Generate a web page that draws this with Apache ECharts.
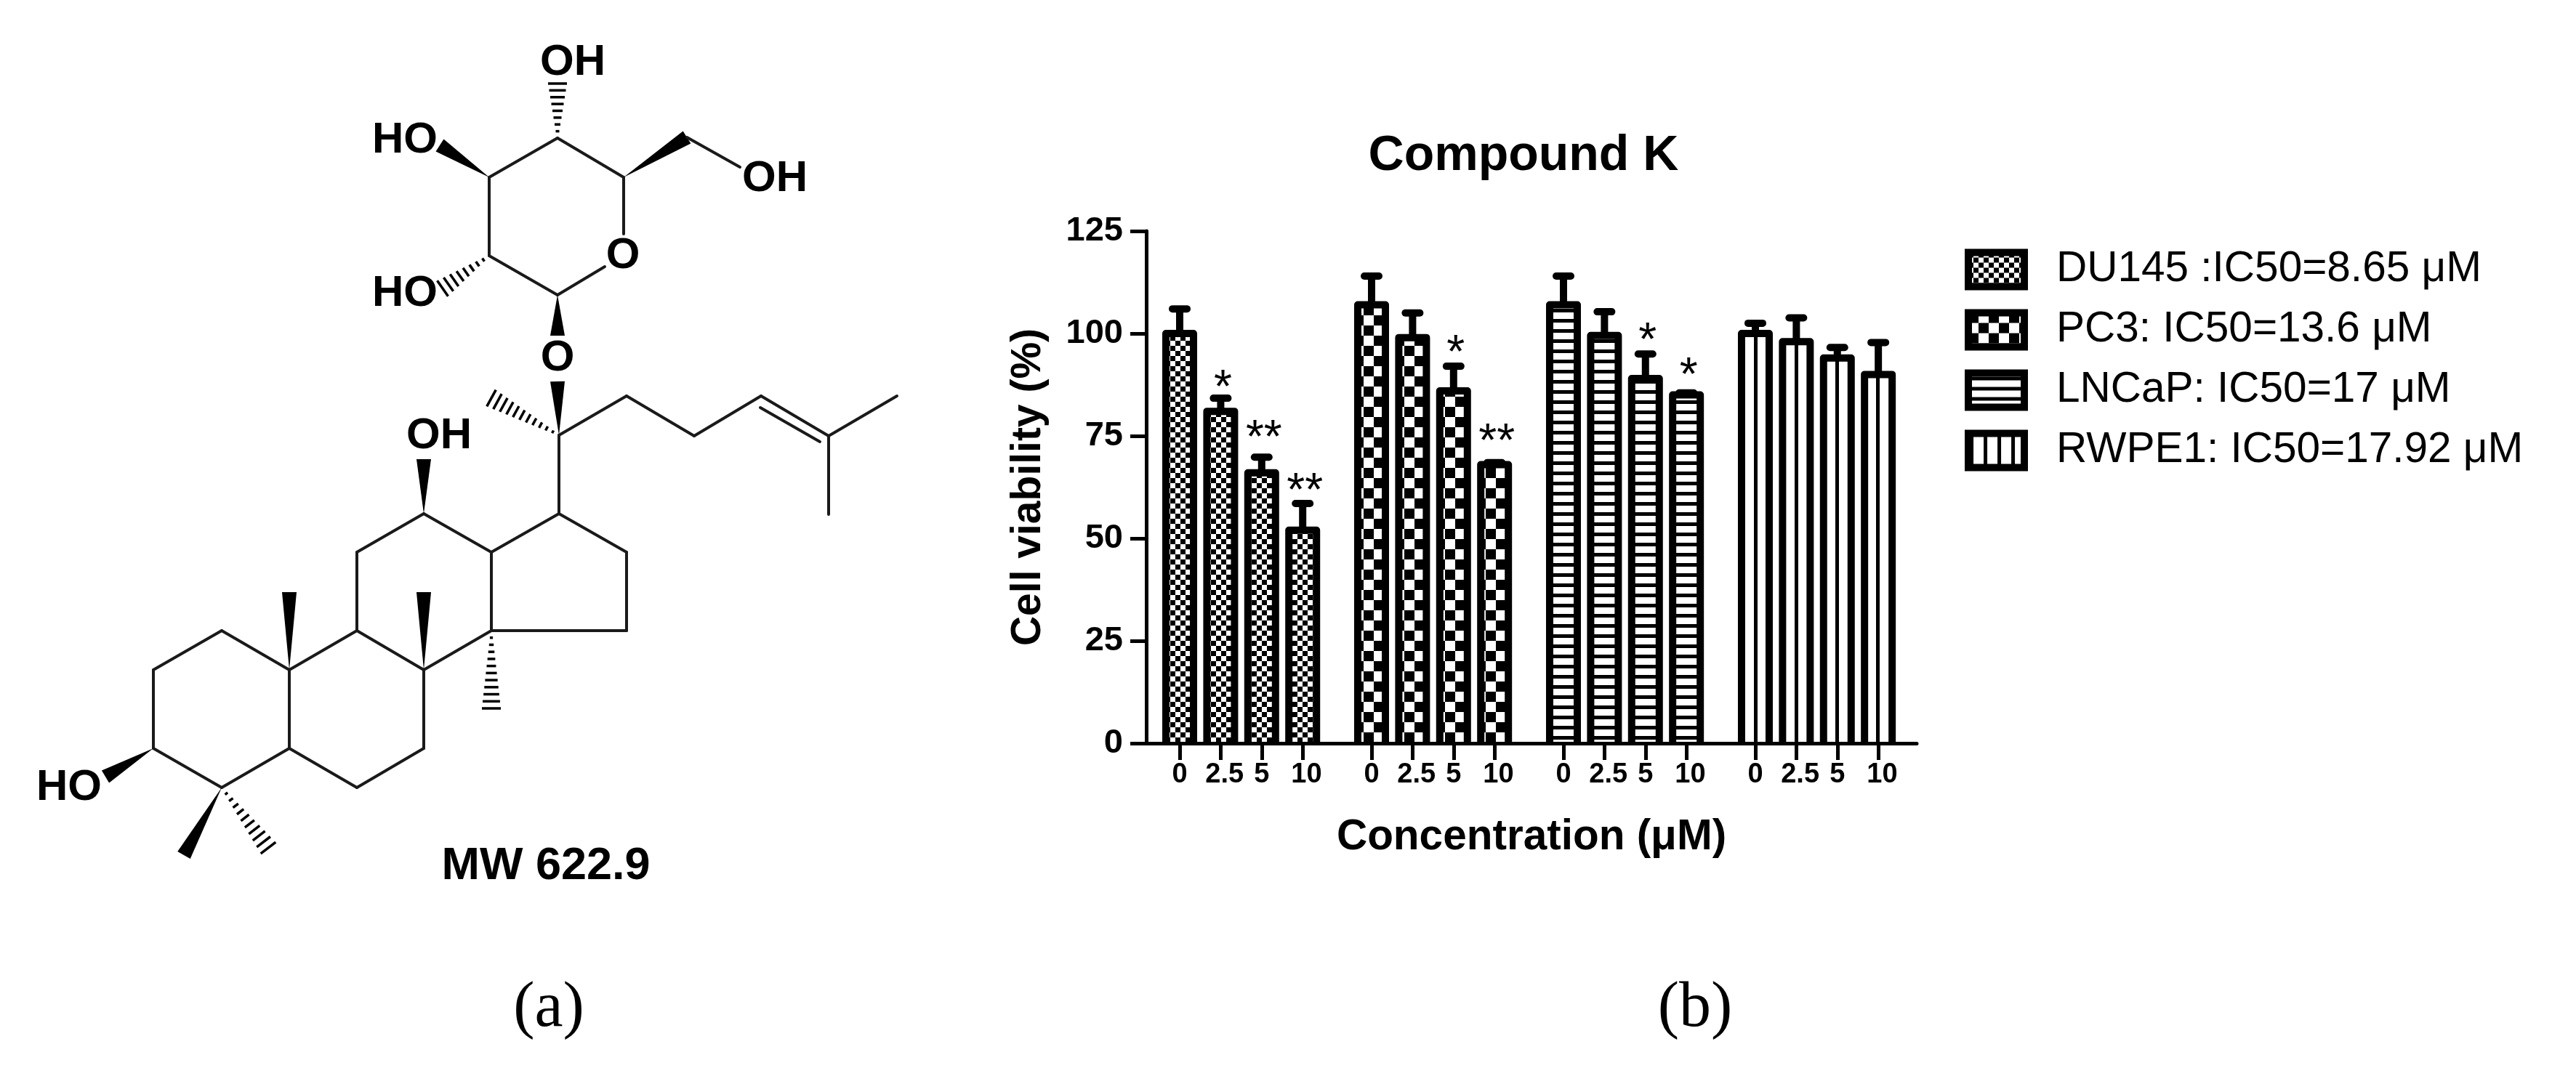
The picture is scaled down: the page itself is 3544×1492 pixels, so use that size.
<!DOCTYPE html>
<html><head><meta charset="utf-8">
<style>html,body{margin:0;padding:0;background:#fff}#c{width:3544px;height:1492px}</style>
<script src="https://cdn.jsdelivr.net/npm/echarts@6/dist/echarts.min.js"></script>
</head><body><div id="c"></div>
<script>
// ---- chart data ----
const concentrations = ['0', '2.5', '5', '10'];
const cellLines = ['DU145 :IC50=8.65 \u03bcM', 'PC3: IC50=13.6 \u03bcM', 'LNCaP: IC50=17 \u03bcM', 'RWPE1: IC50=17.92 \u03bcM'];
const du145 = [100, 81, 66, 52];
const pc3 = [107, 99, 86, 68];
const lncap = [107, 99.5, 89, 85];
const rwpe1 = [100, 98, 94, 90];
const du145Err = [106, 84.2, 69.8, 58.5];
const pc3Err = [114, 105, 92, 68.5];
const lncapErr = [114, 105.3, 95, 85.5];
const rwpe1Err = [102.5, 103.8, 96.6, 97.8];
const du145Stars = ['', '*', '**', '**'];
const pc3Stars = ['', '', '*', '**'];
const lncapStars = ['', '', '*', '*'];
const rwpe1Stars = ['', '', '', ''];
const du145StarY = [0, 88, 75.9, 62.8];
const pc3StarY = [0, 0, 96.5, 75];
const lncapStarY = [0, 0, 99.5, 91];
const rwpe1StarY = [0, 0, 0, 0];
const yTicks = [0, 25, 50, 75, 100, 125];
// ---- structure of the compound (panel a) ----
const atoms = {
  c4s:[767,190], c3s:[673,244], c2s:[673,352], c1s:[767,406], c5s:[858,244], ch2:[945,189],
  oRingTop:[858,322], oRingLow:[832,367], oh6:[1018,230], oh4:[767,115], oh3:[605,200], oh2:[609,397],
  oGlyA:[767,462], oGlyB:[767,525], c20:[769,599], me21:[676,548], c22:[862,545], c23:[955,600],
  c24:[1047,545], c25:[1140,600], me26:[1234,545], me27:[1140,708], db1:[1046,561], db2:[1128,608],
  c17:[769,707], c12:[583,707], oh12:[583,632], c11:[491,760], c13:[676,760], c16:[862,760],
  c15:[862,868], c14:[676,868], c9:[491,868], c8:[583,922], c10:[398,922], c1:[305,868], c2:[211,922],
  c3:[211,1030], c4:[305,1084], c5:[398,1030], c6:[491,1084], c7:[583,1030], me19:[398,815], me18:[583,815],
  me30:[676,975], oh3b:[145,1069], me28:[253,1177], me29:[369,1167]
};
const bonds = [
  ['c4s','c3s',0],['c3s','c2s',0],['c2s','c1s',0],['c4s','c5s',0],['c5s','oRingTop',0],['oRingLow','c1s',0],
  ['c5s','ch2',1],['ch2','oh6',0],['c4s','oh4',2],['c3s','oh3',1],['c2s','oh2',2],['c1s','oGlyA',1],['c20','oGlyB',1],
  ['c20','me21',2],['c20','c22',0],['c22','c23',0],['c23','c24',0],['c24','c25',0],['db1','db2',0],['c25','me26',0],['c25','me27',0],
  ['c20','c17',0],['c12','oh12',1],['c12','c11',0],['c12','c13',0],['c17','c13',0],['c17','c16',0],['c16','c15',0],['c15','c14',0],['c13','c14',0],
  ['c11','c9',0],['c9','c8',0],['c8','c14',0],['c9','c10',0],['c10','c1',0],['c1','c2',0],['c2','c3',0],['c3','c4',0],['c4','c5',0],['c5','c10',0],
  ['c5','c6',0],['c6','c7',0],['c7','c8',0],['c10','me19',1],['c8','me18',1],['c14','me30',2],['c3','oh3b',1],['c4','me28',1],['c4','me29',2]
];
const atomLabels = [['OH',788,86],['HO',557,193],['OH',1066,246],['O',857,352],['HO',557,404],['O',767,493],['OH',604,600],['HO',95,1084]];
const weightLabel = [['MW 622.9',751,1193]];
const panelLabels = [['(a)',755,1389],['(b)',2332,1389]];

const groupStep = 4.681;
const xOf = (g, i) => g * groupStep + i;
const allVals = [du145, pc3, lncap, rwpe1];
const allErr = [du145Err, pc3Err, lncapErr, rwpe1Err];
const allStars = [du145Stars, pc3Stars, lncapStars, rwpe1Stars];
const allStarY = [du145StarY, pc3StarY, lncapStarY, rwpe1StarY];
const xTickPos = [];
allVals.forEach((_, g) => concentrations.forEach((_, i) => xTickPos.push(xOf(g, i))));

function tile(w, h, draw) {
  const c = document.createElement('canvas'); c.width = w; c.height = h;
  const x = c.getContext('2d'); x.fillStyle = '#fff'; x.fillRect(0, 0, w, h); x.fillStyle = '#000'; draw(x);
  return { image: c, repeat: 'repeat' };
}
const patterns = [
  tile(14, 14, x => { x.fillRect(0, 0, 7, 7); x.fillRect(7, 7, 7, 7); }),
  tile(28, 28, x => { x.fillRect(0, 0, 14, 14); x.fillRect(14, 14, 14, 14); }),
  tile(14, 14, x => { x.fillRect(0, 5, 14, 5); }),
  tile(28, 14, x => { x.fillRect(5, 0, 5, 14); })
];
const legendStripes = tile(19, 14, x => { x.fillRect(2, 0, 5, 14); });

const BLACK = '#000', INK = '#1a1a1a', FONT = '"Liberation Sans"';
const barHalf = 19, strokeW = 10;

const barSeries = cellLines.map((name, g) => ({
  name, type: 'bar', xAxisIndex: 0, yAxisIndex: 0, barWidth: barHalf * 2, barGap: '-100%',
  itemStyle: { color: patterns[g], borderWidth: 0 },
  data: allVals[g].map((v, i) => [xOf(g, i), v]), z: 2
}));

const outlineData = [];
allVals.forEach((vals, g) => vals.forEach((v, i) => outlineData.push([xOf(g, i), v, allErr[g][i]])));
const outlineSeries = {
  type: 'custom', xAxisIndex: 0, yAxisIndex: 0, z: 3, silent: true, clip: false, data: outlineData,
  renderItem(p, api) {
    const top = api.coord([api.value(0), api.value(1)]);
    const base = api.coord([api.value(0), 0]);
    const err = api.coord([api.value(0), api.value(2)]);
    const st = { stroke: BLACK, lineWidth: strokeW, fill: null, lineJoin: 'round' };
    return { type: 'group', children: [
      { type: 'polyline', shape: { points: [[top[0] - barHalf, base[1]], [top[0] - barHalf, top[1]], [top[0] + barHalf, top[1]], [top[0] + barHalf, base[1]]] }, style: st },
      { type: 'line', shape: { x1: top[0], y1: top[1], x2: top[0], y2: err[1] }, style: { stroke: BLACK, lineWidth: strokeW } },
      { type: 'line', shape: { x1: top[0] - 10, y1: err[1], x2: top[0] + 10, y2: err[1] }, style: { stroke: BLACK, lineWidth: strokeW, lineCap: 'round' } }
    ] };
  }
};

const starData = [], starText = [];
allStars.forEach((arr, g) => arr.forEach((s, i) => { if (s) { starData.push([xOf(g, i), allStarY[g][i]]); starText.push(s); } }));
const starSeries = {
  type: 'custom', xAxisIndex: 0, yAxisIndex: 0, z: 4, silent: true, clip: false, data: starData,
  renderItem(p, api) {
    const c = api.coord([api.value(0), api.value(1)]);
    return { type: 'text', style: { text: starText[p.dataIndex], x: c[0] + 3, y: c[1] + 10, align: 'center', verticalAlign: 'middle', fontFamily: FONT, fontSize: 64, fill: BLACK } };
  }
};

const bondData = bonds.map(b => [atoms[b[0]][0], atoms[b[0]][1], atoms[b[1]][0], atoms[b[1]][1], b[2]]);
const bondSeries = {
  type: 'custom', xAxisIndex: 1, yAxisIndex: 1, z: 1, silent: true, clip: false, data: bondData,
  renderItem(p, api) {
    const a = api.coord([api.value(0), api.value(1)]), b = api.coord([api.value(2), api.value(3)]);
    const k = api.value(4), dx = b[0] - a[0], dy = b[1] - a[1], L = Math.hypot(dx, dy), nx = -dy / L, ny = dx / L;
    if (k === 0) return { type: 'line', shape: { x1: a[0], y1: a[1], x2: b[0], y2: b[1] }, style: { stroke: INK, lineWidth: 4, lineCap: 'round' } };
    if (k === 1) return { type: 'polygon', shape: { points: [[a[0], a[1]], [b[0] + nx * 10, b[1] + ny * 10], [b[0] - nx * 10, b[1] - ny * 10]] }, style: { fill: BLACK } };
    const n = Math.max(8, Math.round(L / 10)), ch = [];
    for (let j = 1; j <= n; j++) {
      const t = j / n, w = 12 * t + 1, cx = a[0] + dx * t, cy = a[1] + dy * t;
      ch.push({ type: 'line', shape: { x1: cx - nx * w, y1: cy - ny * w, x2: cx + nx * w, y2: cy + ny * w }, style: { stroke: BLACK, lineWidth: 3.5 } });
    }
    return { type: 'group', children: ch };
  }
};
const textSeries = (rows, font) => ({
  type: 'custom', xAxisIndex: 1, yAxisIndex: 1, z: 2, silent: true, clip: false,
  data: rows.map(r => [r[1], r[2]]),
  renderItem(p, api) {
    const c = api.coord([api.value(0), api.value(1)]);
    return { type: 'text', style: Object.assign({ text: rows[p.dataIndex][0], x: c[0], y: c[1], align: 'center', verticalAlign: 'middle', fill: BLACK }, font) };
  }
});

const chart = echarts.init(document.getElementById('c'), null, { renderer: 'canvas', width: 3544, height: 1492, devicePixelRatio: 1 });
chart.setOption({
  animation: false, backgroundColor: '#fff',
  title: { text: 'Compound K', left: 2091, top: 210, textAlign: 'center', textVerticalAlign: 'middle',
    textStyle: { fontFamily: FONT, fontWeight: 'bold', fontSize: 68, color: BLACK } },
  legend: {
    orient: 'vertical', left: 2703, top: 341.5, padding: 0, itemWidth: 77, itemHeight: 47, itemGap: 24, selectedMode: false, icon: 'rect',
    itemStyle: { borderWidth: 10, borderColor: BLACK },
    textStyle: { fontFamily: FONT, fontSize: 58.5, color: BLACK, padding: [0, 0, 0, 39], lineHeight: 47 },
    data: cellLines.map((name, g) => g === 3 ? { name, itemStyle: { color: legendStripes, borderWidth: 10, borderColor: BLACK } } : { name })
  },
  grid: [
    { left: 1577, top: 318, width: 1060, height: 705, containLabel: false },
    { left: 0, top: 0, width: 3544, height: 1492 }
  ],
  xAxis: [
    { type: 'value', gridIndex: 0, min: -0.816, max: 17.98, z: 10, splitLine: { show: false },
      name: 'Concentration (\u03bcM)', nameLocation: 'middle', nameGap: 100,
      nameTextStyle: { fontFamily: FONT, fontWeight: 'bold', fontSize: 58.5, color: BLACK },
      axisLine: { show: true, onZero: false, lineStyle: { color: BLACK, width: 5 } },
      axisTick: { show: true, length: 23, customValues: xTickPos, lineStyle: { color: BLACK, width: 5 } },
      axisLabel: { show: true, margin: 25, customValues: xTickPos, fontFamily: FONT, fontWeight: 'bold', fontSize: 38, color: BLACK, hideOverlap: false,
        formatter: (v) => { const g = Math.floor((v + 0.01) / groupStep + 1e-6); const i = Math.round(v - g * groupStep); const s = concentrations[i]; return (s.length > 1 ? ' ' : '') + s; } } },
    { type: 'value', gridIndex: 1, min: 0, max: 3544, show: false, splitLine: { show: false } }
  ],
  yAxis: [
    { type: 'value', gridIndex: 0, min: yTicks[0], max: yTicks[yTicks.length - 1], interval: 25, z: 10, splitLine: { show: false },
      name: 'Cell viability (%)', nameLocation: 'middle', nameGap: 133, nameRotate: 90,
      nameTextStyle: { fontFamily: FONT, fontWeight: 'bold', fontSize: 57, color: BLACK },
      axisLine: { show: true, onZero: false, lineStyle: { color: BLACK, width: 5 } },
      axisTick: { show: true, length: 22, lineStyle: { color: BLACK, width: 5 } },
      axisLabel: { show: true, margin: 32, fontFamily: FONT, fontWeight: 'bold', fontSize: 47, color: BLACK } },
    { type: 'value', gridIndex: 1, min: 0, max: 1492, inverse: true, show: false, splitLine: { show: false } }
  ],
  series: [...barSeries, outlineSeries, starSeries, bondSeries,
    textSeries(atomLabels, { fontFamily: FONT, fontWeight: 'bold', fontSize: 60 }),
    textSeries(weightLabel, { fontFamily: FONT, fontWeight: 'bold', fontSize: 63 }),
    textSeries(panelLabels, { fontFamily: '"Liberation Serif"', fontSize: 88 })]
});
</script></body></html>
